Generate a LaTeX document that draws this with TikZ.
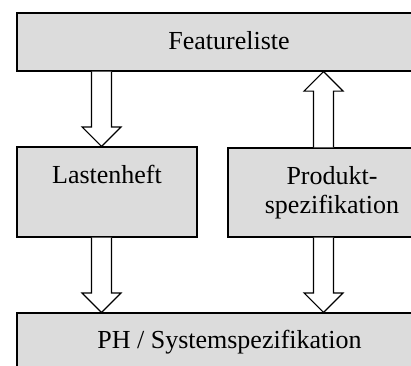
\documentclass[tikz,border=0pt]{standalone}
\usepackage{fontspec}
\setmainfont{Liberation Serif}
\usetikzlibrary{calc}
\definecolor{boxgray}{RGB}{220,220,220}
\tikzset{
  box/.style={draw=black, line width=1.2pt, fill=boxgray, rectangle, inner sep=0pt},
  lbl/.style={inner sep=0pt, font=\fontsize{26}{29}\selectfont, align=center},
  blockarrow/.style={draw=black, line width=1.2pt, fill=white, line join=miter},
}
\newcommand{\blockarr}[2]{%
  \draw[blockarrow] let \p1=(#1), \p2=(#2), \n1={sign(\y2-\y1)} in
    (\x1-10pt,\y1) -- (\x1-10pt,{\y2-\n1*19.5pt}) -- (\x1-19.5pt,{\y2-\n1*19.5pt})
    -- (\x2,\y2) -- (\x1+19.5pt,{\y2-\n1*19.5pt}) -- (\x1+10pt,{\y2-\n1*19.5pt})
    -- (\x1+10pt,\y1);}
\begin{document}
\begin{tikzpicture}[x=1pt,y=1pt]
\useasboundingbox (0,0) rectangle (411,365);
\clip (0,0) rectangle (411,365);
% boxes
\node[box, minimum width=424pt, minimum height=58pt] (top) at (229,323) {};
\node[box, minimum width=180pt, minimum height=90pt] (lasten) at (107,173) {};
\node[box, minimum width=210pt, minimum height=89pt] (prod) at (333,172.5) {};
\node[box, minimum width=424pt, minimum height=58pt] (bottom) at (229,23) {};
% labels
\node[lbl, anchor=base] (ttop) at ([yshift=-37pt]top.north) {Featureliste};
\node[lbl, anchor=base] (tlasten) at ([yshift=-37pt]lasten.north) {Lastenheft};
\node[lbl, anchor=base] (tprod) at ([xshift=-1pt,yshift=-66pt]prod.north) {Produkt-\\spezifikation};
\node[lbl, anchor=base] (tbottom) at ([xshift=0.5pt,yshift=-36pt]bottom.north) {PH / Systemspezifikation};
% arrow axes
\coordinate (xl) at (101.5,0);
\coordinate (xr) at (323.5,0);
\coordinate (a1s) at (top.south -| xl);
\coordinate (a1e) at (lasten.north -| xl);
\coordinate (a2s) at (prod.north -| xr);
\coordinate (a2e) at (top.south -| xr);
\coordinate (a3s) at (lasten.south -| xl);
\coordinate (a3e) at (bottom.north -| xl);
\coordinate (a4s) at (prod.south -| xr);
\coordinate (a4e) at (bottom.north -| xr);
\blockarr{a1s}{a1e}
\blockarr{a2s}{a2e}
\blockarr{a3s}{a3e}
\blockarr{a4s}{a4e}
\end{tikzpicture}
\end{document}
